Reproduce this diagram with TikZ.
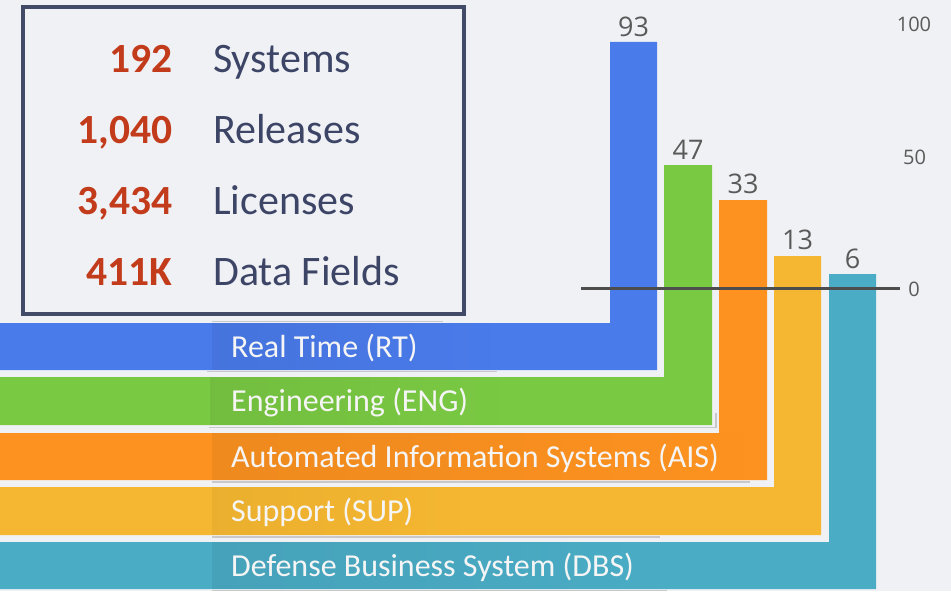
\documentclass[tikz,border=0pt]{standalone}
\usepackage{fontspec}
\setmainfont{Carlito}
\newfontfamily\numfont{Open Sans}
\usetikzlibrary{fadings}

\definecolor{pagebg}{HTML}{F0F1F5}
\definecolor{rtblue}{HTML}{4A7BEA}
\definecolor{enggreen}{HTML}{7AC943}
\definecolor{aisorange}{HTML}{FD9220}
\definecolor{supyellow}{HTML}{F5B731}
\definecolor{dbsteal}{HTML}{4AACC5}
\definecolor{framec}{HTML}{414A66}
\definecolor{statred}{HTML}{C23B1B}
\definecolor{statslate}{HTML}{3D4566}
\definecolor{valgray}{HTML}{5A5A5A}
\definecolor{axisc}{HTML}{4D4D4D}

\tikzfading[name=tabfade, left color=transparent!0, right color=transparent!100]

\begin{document}
\begin{tikzpicture}[x=1pt,y=-1pt,
  statnum/.style={anchor=base east, inner sep=0pt, text=statred,
    font=\fontsize{41.5}{46}\selectfont\bfseries},
  statlbl/.style={anchor=base west, inner sep=0pt, text=statslate,
    font=\fontsize{42}{46}\selectfont},
  bandlbl/.style={anchor=base west, inner sep=0pt, text=white!96!black,
    font=\fontsize{32}{36}\selectfont},
  vallbl/.style={anchor=base, inner sep=0pt, text=valgray,
    font=\numfont\fontsize{27}{30}\selectfont},
  axlbl/.style={anchor=base, inner sep=0pt, text=valgray,
    font=\numfont\fontsize{20}{24}\selectfont},
  tabshade/.style={path fading=tabfade, fill opacity=0.8},
  gapline/.style={line width=1.5pt, black!45, opacity=0.4},
]
% page
\fill[pagebg] (0,0) rectangle (951,591);

% L-shaped bar + band for each category
\fill[rtblue]    (0,323) -- (610,323) -- (610,42)  -- (657,42)  -- (657,370) -- (0,370) -- cycle;
\fill[enggreen]  (0,377) -- (664,377) -- (664,165) -- (712,165) -- (712,425) -- (0,425) -- cycle;
\fill[aisorange] (0,433) -- (719,433) -- (719,200) -- (767,200) -- (767,480) -- (0,480) -- cycle;
\fill[supyellow] (0,487) -- (774,487) -- (774,256) -- (821,256) -- (821,535) -- (0,535) -- cycle;
\fill[dbsteal]   (0,542) -- (829,542) -- (829,274) -- (876,274) -- (876,589) -- (0,589) -- cycle;

% darker label tabs
\fill[rtblue!93!black,    tabshade] (212,323) rectangle (490,370);
\fill[enggreen!93!black,  tabshade] (210,377) rectangle (500,425);
\fill[aisorange!93!black, tabshade] (212,433) rectangle (745,480);
\fill[supyellow!95!black, tabshade] (212,487) rectangle (460,535);
\fill[dbsteal!93!black,   tabshade] (212,542) rectangle (660,589);

% soft shadow edges of the tabs
\draw[gapline] (212,321.5) -- (443,321.5);
\draw[gapline] (207,371.5) -- (497,371.5);
\draw[gapline] (209,427.5) -- (716,427.5) -- (716,413);
\draw[gapline] (212,482)   -- (750,482);
\draw[gapline] (212,537)   -- (660,537);
\draw[gapline] (212,590.5) -- (667,590.5);

% band labels
\node[bandlbl] (lblrt)  at (231,357) {Real Time (RT)};
\node[bandlbl] (lbleng) at (231,411.5) {Engineering (ENG)};
\node[bandlbl] (lblais) at (231,467) {Automated Information Systems (AIS)};
\node[bandlbl] (lblsup) at (231,521.5) {Support (SUP)};
\node[bandlbl] (lbldbs) at (231,576) {Defense Business System (DBS)};

% zero line
\draw[axisc, line width=2.5pt] (581,288.7) -- (900,288.7);

% value labels over the bars
\node[vallbl] (v93) at (633.5,36.5)  {93};
\node[vallbl] (v47) at (688,159.5)   {47};
\node[vallbl] (v33) at (743,193.5)   {33};
\node[vallbl] (v13) at (797.5,249)   {13};
\node[vallbl] (v6)  at (852.5,268.5) {6};

% axis scale
\begin{scope}
  \clip (880,0) rectangle (934,60);
  \node[axlbl] (ax100) at (914,32) {100};
\end{scope}
\node[axlbl] (ax50) at (914.5,164) {50};
\node[axlbl] (ax0)  at (914,296)   {0};

% summary box
\draw[framec, line width=4pt] (22.7,6.7) rectangle (463.7,313.7);
\node[statnum] (n1) at (172.5,72.7) {192};
\node[statlbl] (t1) at (213,72.7)   {Systems};
\node[statnum] (n2) at (172.5,143.5) {1,040};
\node[statlbl] (t2) at (213,143.5)  {Releases};
\node[statnum] (n3) at (172.5,214)   {3,434};
\node[statlbl] (t3) at (213,214)    {Licenses};
\node[statnum] (n4) at (172.5,285)   {411K};
\node[statlbl] (t4) at (213,285)    {Data Fields};
\end{tikzpicture}
\end{document}
